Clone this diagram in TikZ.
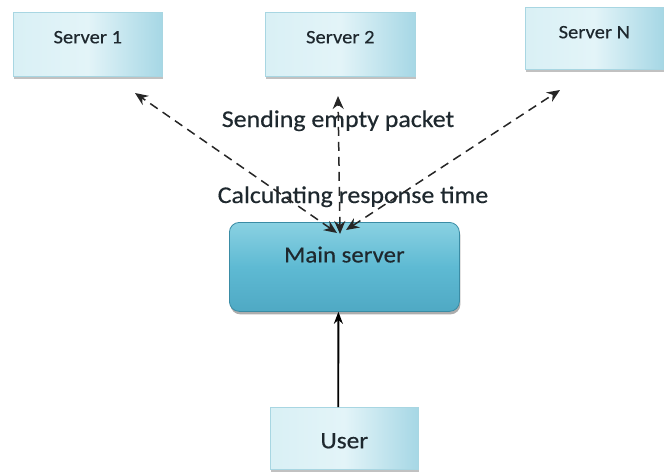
\documentclass[tikz,border=0pt]{standalone}
\usepackage{fontspec}
\setmainfont{Carlito}[FakeStretch=1.08,FakeBold=0.4]
\usetikzlibrary{arrows.meta,shadows}
\definecolor{srvA}{HTML}{D9F0F5}
\definecolor{srvB}{HTML}{A6D7E5}
\definecolor{srvC}{HTML}{E3F4F8}
\definecolor{srvEdge}{HTML}{A8D6E2}
\definecolor{mainA}{HTML}{8AD1E2}
\definecolor{mainB}{HTML}{4FA9C4}
\definecolor{mainC}{HTML}{5EBAD3}
\definecolor{mainEdge}{HTML}{3A8CA5}
\definecolor{txt}{HTML}{1E282E}
\tikzset{
  srvbox/.style={draw=srvEdge, line width=0.6pt, anchor=north west,
    left color=srvA, right color=srvB, middle color=srvC,
    inner xsep=0pt, inner ysep=0pt, text=txt,
    font=\fontsize{19}{22}\selectfont,
    drop shadow={shadow xshift=0.5pt, shadow yshift=-3pt, fill=black!30, opacity=0.8}},
  mainbox/.style={draw=mainEdge, line width=0.8pt, rounded corners=10pt, anchor=north west,
    top color=mainA, bottom color=mainB, middle color=mainC,
    inner xsep=0pt, inner ysep=0pt, text=txt,
    font=\fontsize{23}{26}\selectfont,
    drop shadow={shadow xshift=1pt, shadow yshift=-3pt, fill=black!40, opacity=0.8}},
  lbl/.style={anchor=base, inner sep=0pt, text=txt, font=\fontsize{24}{28}\selectfont},
  dasharrow/.style={draw=black!85, line width=1.5pt, dash pattern=on 9pt off 6pt,
    {Stealth[length=13pt,width=11pt]}-{Stealth[length=13pt,width=11pt]}},
  solidarrow/.style={draw=black, line width=1.8pt, -{Stealth[length=12pt,width=9pt]}}
}
\begin{document}
\begin{tikzpicture}[x=1pt,y=-1pt]
\useasboundingbox[fill=white] (0,0) rectangle (664,475);
% servers
\node[srvbox, minimum width=149pt, text height=31pt, text depth=33pt] (s1) at (13,12) {Server 1};
\node[srvbox, minimum width=150pt, text height=31pt, text depth=33pt] (s2) at (265,12) {Server 2};
\node[srvbox, minimum width=138pt, text height=31pt, text depth=31pt] (sn) at (525,7) {Server N};
% main
\node[mainbox, minimum width=230pt, text height=40pt, text depth=49pt] (main) at (229,222) {Main server};
% user
\node[srvbox, minimum width=148pt, text height=41pt, text depth=21pt,
  font=\fontsize{23.5}{26}\selectfont] (user) at (270,407) {User};
% labels
\node[lbl] (send) at (338,127) {Sending empty packet};
\node[lbl] (calc) at (353,203) {Calculating response time};
% arrow end points
\coordinate (t1) at (135,93);
\coordinate (t2) at (338,96);
\coordinate (t3) at (560,90);
\coordinate (b1) at (337,233);
\coordinate (b2) at (340,234);
\coordinate (b3) at (346,230);
\draw[dasharrow] (b1) -- (t1);
\draw[dasharrow] (b2) -- (t2);
\draw[dasharrow] (b3) -- (t3);
\draw[solidarrow] ([xshift=-6pt]user.north) -- ([xshift=-6pt]main.south);
\end{tikzpicture}
\end{document}
